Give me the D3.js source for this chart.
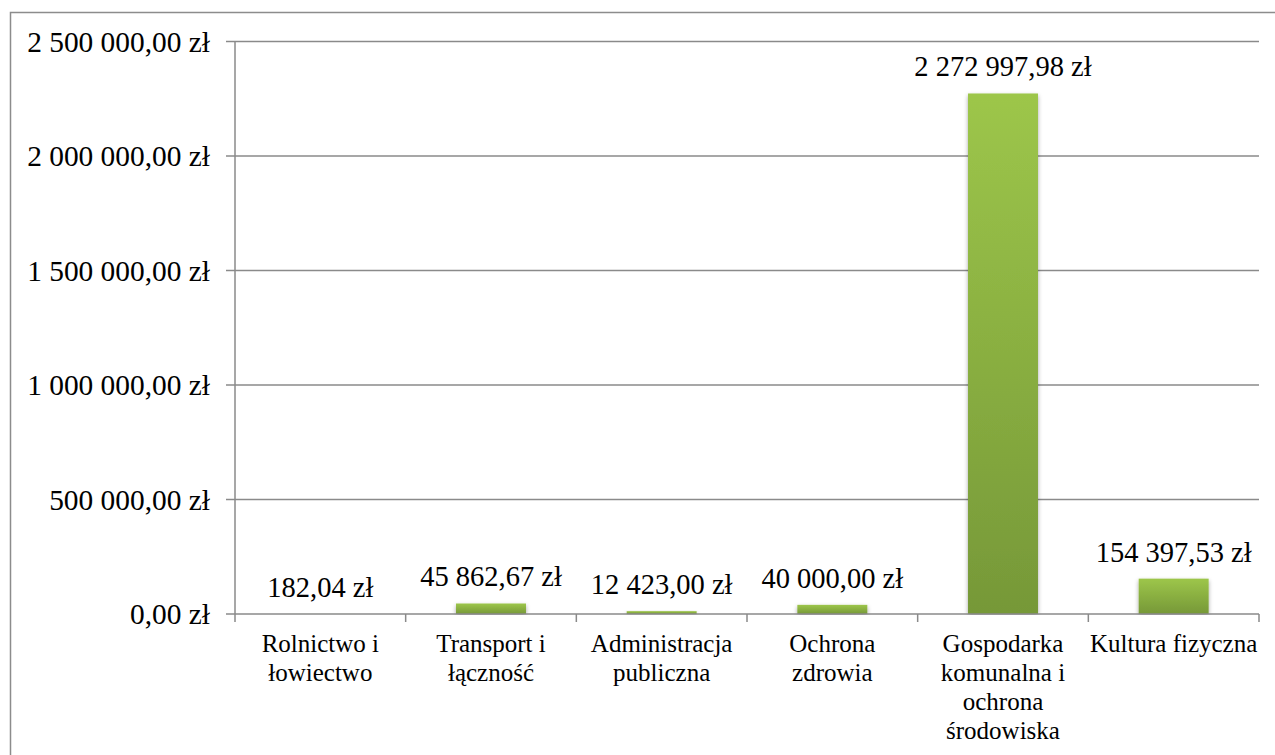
<!DOCTYPE html>
<html>
<head>
<meta charset="utf-8">
<script src="https://cdn.jsdelivr.net/npm/d3@7"></script>
</head>
<body style="margin:0;background:#fff">
<svg id="wykres" width="1275" height="755"></svg>
<script>
// Wydatki według działów
const categories = [
  "Rolnictwo i\nłowiectwo",
  "Transport i\nłączność",
  "Administracja\npubliczna",
  "Ochrona\nzdrowia",
  "Gospodarka\nkomunalna i\nochrona\nśrodowiska",
  "Kultura fizyczna"
];
const values = [182.04, 45862.67, 12423.00, 40000.00, 2272997.98, 154397.53];
const yTicks = [0, 500000, 1000000, 1500000, 2000000, 2500000];

const FONT = "Liberation Serif";

// Polish currency format: "2 272 997,98 zł"
function zl(v) {
  const [intPart, frac] = v.toFixed(2).split(".");
  const grouped = intPart.replace(/\B(?=(\d{3})+(?!\d))/g, " ");
  return grouped + "," + frac + " zł";
}

const svg = d3.select("#wykres");
const plot = { left: 235, right: 1259, top: 41.5, bottom: 614 };

// frame: top and left edges of the chart area
svg.append("path")
  .attr("d", "M10.5,755 V12.5 H1275")
  .attr("fill", "none").attr("stroke", "#8c8c8c").attr("stroke-width", 1.5);

const defs = svg.append("defs");
const grad = defs.append("linearGradient")
  .attr("id", "barGrad").attr("x1", 0).attr("y1", 0).attr("x2", 0).attr("y2", 1);
grad.append("stop").attr("offset", "0%").attr("stop-color", "#9dc64a");
grad.append("stop").attr("offset", "100%").attr("stop-color", "#769838");

const shadow = defs.append("filter").attr("id", "barShadow")
  .attr("x", "-30%").attr("y", "-30%").attr("width", "160%").attr("height", "160%");
shadow.append("feDropShadow")
  .attr("dx", 0).attr("dy", 2).attr("stdDeviation", 2.2)
  .attr("flood-color", "#000").attr("flood-opacity", 0.35);

const x = d3.scaleBand()
  .domain(d3.range(categories.length))
  .range([plot.left, plot.right])
  .padding(0);

const y = d3.scaleLinear()
  .domain([0, 2500000])
  .range([plot.bottom, plot.top]);

const axisColor = "#8a8a8a";

// horizontal gridlines
svg.append("g")
  .selectAll("line")
  .data(yTicks.filter(d => d > 0))
  .join("line")
  .attr("x1", plot.left).attr("x2", plot.right)
  .attr("y1", d => y(d)).attr("y2", d => y(d))
  .attr("stroke", axisColor).attr("stroke-width", 1.5);

// y axis line and ticks
svg.append("line")
  .attr("x1", plot.left).attr("x2", plot.left)
  .attr("y1", plot.top).attr("y2", plot.bottom)
  .attr("stroke", axisColor).attr("stroke-width", 1.5);
svg.append("g")
  .selectAll("line")
  .data(yTicks)
  .join("line")
  .attr("x1", plot.left - 9).attr("x2", plot.left)
  .attr("y1", d => y(d)).attr("y2", d => y(d))
  .attr("stroke", axisColor).attr("stroke-width", 1.5);

// y tick labels
svg.append("g")
  .selectAll("text")
  .data(yTicks)
  .join("text")
  .style("font-family", FONT)
  .style("font-size", "29.4px")
  .attr("fill", "#000")
  .attr("text-anchor", "end")
  .attr("x", plot.left - 25)
  .attr("y", d => y(d) + 10)
  .text(zl);

// bars
const barW = x.bandwidth() * 0.41;
svg.append("g")
  .selectAll("rect")
  .data(values)
  .join("rect")
  .attr("x", (d, i) => x(i) + x.bandwidth() / 2 - barW / 2)
  .attr("y", d => y(d))
  .attr("width", barW)
  .attr("height", d => y(0) - y(d))
  .attr("fill", "url(#barGrad)")
  .attr("filter", "url(#barShadow)");

// x axis (drawn over bar bottoms)
svg.append("rect")
  .attr("x", plot.left - 20).attr("y", plot.bottom + 1)
  .attr("width", plot.right - plot.left + 30).attr("height", 8)
  .attr("fill", "#fff");
svg.append("line")
  .attr("x1", plot.left).attr("x2", plot.right)
  .attr("y1", plot.bottom).attr("y2", plot.bottom)
  .attr("stroke", axisColor).attr("stroke-width", 1.5);
svg.append("g")
  .selectAll("line")
  .data(d3.range(categories.length + 1))
  .join("line")
  .attr("x1", i => i < categories.length ? x(i) : plot.right)
  .attr("x2", i => i < categories.length ? x(i) : plot.right)
  .attr("y1", plot.bottom).attr("y2", plot.bottom + 8)
  .attr("stroke", axisColor).attr("stroke-width", 1.5);

// category labels
categories.forEach((c, i) => {
  const cx = x(i) + x.bandwidth() / 2;
  const t = svg.append("text")
    .style("font-family", FONT)
    .style("font-size", "25px")
    .attr("text-anchor", "middle")
    .attr("fill", "#000")
    .attr("x", cx)
    .attr("y", 652);
  c.split("\n").forEach((line, k) => {
    t.append("tspan")
      .attr("x", cx)
      .attr("dy", k === 0 ? 0 : 29)
      .text(line);
  });
});

// value labels above bars
svg.append("g")
  .selectAll("text")
  .data(values)
  .join("text")
  .style("font-family", FONT)
  .style("font-size", "28.5px")
  .attr("text-anchor", "middle")
  .attr("fill", "#000")
  .attr("x", (d, i) => x(i) + x.bandwidth() / 2)
  .attr("y", d => y(d) - 17)
  .text(d => zl(d));
</script>
</body>
</html>
